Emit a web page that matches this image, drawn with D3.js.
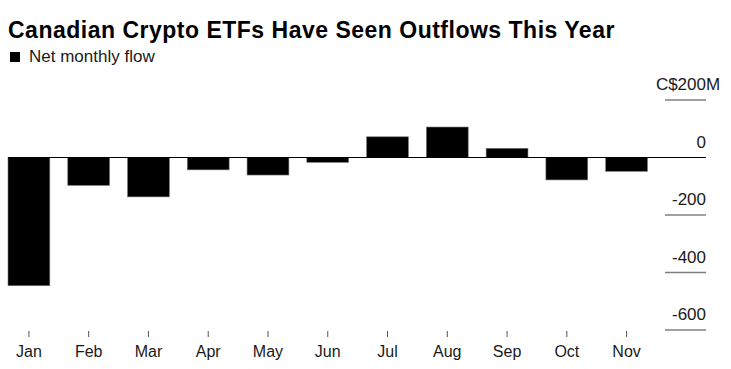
<!DOCTYPE html>
<html>
<head>
<meta charset="utf-8">
<script src="https://cdn.jsdelivr.net/npm/d3@7"></script>
<style>
  body { margin: 0; background: #fff; }
  svg text { font-family: "Liberation Sans", Arial, Helvetica, sans-serif; }
</style>
</head>
<body>
<script>
// Net monthly flows, C$ millions
var months = ["Jan", "Feb", "Mar", "Apr", "May", "Jun", "Jul", "Aug", "Sep", "Oct", "Nov"];
var flows = [-446, -97, -137, -43, -61, -17, 72, 106, 32, -78, -48];
var yTicks = [200, 0, -200, -400, -600];

var width = 731, height = 369;

var svg = d3.select("body")
    .append("svg")
    .attr("width", width)
    .attr("height", height);

// title
svg.append("text")
    .attr("x", 8)
    .attr("y", 38)
    .style("font-size", "23px")
    .style("font-weight", "bold")
    .style("letter-spacing", "0.5px")
    .style("fill", "#000")
    .text("Canadian Crypto ETFs Have Seen Outflows This Year");

// legend
svg.append("rect")
    .attr("x", 10)
    .attr("y", 52)
    .attr("width", 10)
    .attr("height", 10)
    .style("fill", "#000");
svg.append("text")
    .attr("x", 29)
    .attr("y", 62)
    .style("font-size", "17px")
    .style("fill", "#1a1a1a")
    .text("Net monthly flow");

var x = d3.scaleBand()
    .domain(months)
    .range([8, 647.5])
    .paddingInner(0.3)
    .paddingOuter(0);

var y = d3.scaleLinear()
    .domain([-600, 200])
    .range([330, 100]);

// y gridlines (short, at the right) and labels
var yAxis = svg.append("g").attr("class", "y-axis");
yAxis.selectAll("line")
    .data(yTicks.filter(function(d) { return d !== 0; }))
    .enter().append("line")
    .attr("x1", 665)
    .attr("x2", 706)
    .attr("y1", function(d) { return y(d); })
    .attr("y2", function(d) { return y(d); })
    .style("stroke", "#808080")
    .style("stroke-width", 1.5);

yAxis.selectAll("text.num")
    .data(yTicks)
    .enter().append("text")
    .attr("class", "num")
    .attr("x", 706)
    .attr("y", function(d) { return y(d) - 10; })
    .style("text-anchor", "end")
    .style("font-size", "17px")
    .style("fill", "#1a1a1a")
    .text(function(d, i) { return (i === 0 ? "C$" : "") + d; });

// unit hangs past the label column on the top tick
yAxis.append("text")
    .attr("x", 706)
    .attr("y", y(yTicks[0]) - 10)
    .style("font-size", "17px")
    .style("fill", "#1a1a1a")
    .text("M");

// bars
svg.append("g")
    .selectAll("rect")
    .data(flows)
    .enter().append("rect")
    .attr("x", function(d, i) { return x(months[i]); })
    .attr("width", x.bandwidth())
    .attr("y", function(d) { return y(Math.max(0, d)); })
    .attr("height", function(d) { return Math.abs(y(d) - y(0)); })
    .style("fill", "#000")
    .style("stroke", "#777")
    .style("stroke-width", 0.6);

// zero line
svg.append("line")
    .attr("x1", 8)
    .attr("x2", 706)
    .attr("y1", y(0))
    .attr("y2", y(0))
    .style("stroke", "#000")
    .style("stroke-width", 1);

// x axis
var xAxis = svg.append("g")
    .attr("transform", "translate(0,331)")
    .call(d3.axisBottom(x).tickSize(6).tickPadding(9));
xAxis.select(".domain").remove();
xAxis.selectAll(".tick line")
    .style("stroke", "#555");
xAxis.selectAll(".tick text")
    .style("font-size", "16px")
    .style("font-family", "'Liberation Sans', Arial, sans-serif")
    .style("fill", "#1a1a1a");
</script>
</body>
</html>
